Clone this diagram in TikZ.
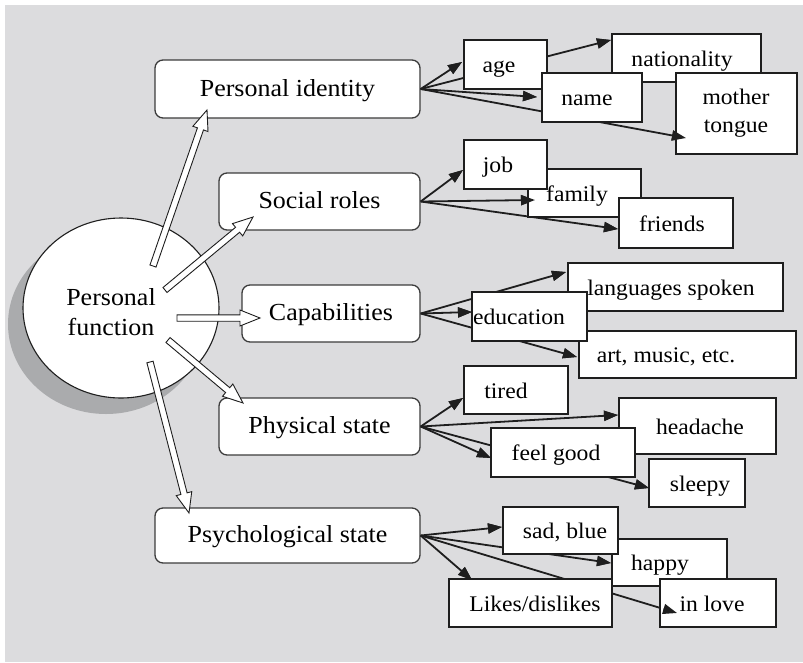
\documentclass[tikz,border=0pt]{standalone}
\usepackage{fontspec}
\setmainfont{Liberation Serif}[FakeStretch=1.06]
\usetikzlibrary{arrows.meta,calc,shapes.geometric}

\definecolor{bg}{HTML}{DCDCDE}
\definecolor{shadowgray}{HTML}{AAABAD}
\definecolor{ink}{HTML}{1E1E1E}
\definecolor{mainedge}{HTML}{3C3C3C}

\tikzset{
  mainbox/.style={draw=mainedge, line width=1.3pt, fill=white, rounded corners=8pt,
    inner sep=0pt, text height=17pt, text depth=3pt,
    font=\fontsize{24.5}{29}\selectfont},
  smallbox/.style={draw=ink, line width=2pt, fill=white, inner sep=0pt},
  smalltext/.style={inner sep=0pt, align=center, font=\fontsize{22.3}{28}\selectfont},
  sline/.style={smalltext, text height=17pt, text depth=1pt},
  circtext/.style={inner sep=0pt, align=center, font=\fontsize{24.5}{30}\selectfont},
  conn/.style={draw=ink, line width=1.8pt, -{Triangle[length=14pt,width=10pt]}},
  fatarrow/.style={draw=ink, line width=0.9pt, fill=white, line join=miter},
}

% rounded main box: name, x1, y1, x2, y2, text
\newcommand\mainbx[6]{%
  \node[mainbox, minimum width={#4-#2}, minimum height={#5-#3}]
    (#1) at ({(#2+#4)/2},{(#3+#5)/2}) {#6};}

% small box: name, x1, y1, x2, y2, text centre x, text
\newcommand\smallbx[7]{%
  \node[smallbox, minimum width={#4-#2}, minimum height={#5-#3}]
    (#1) at ({(#2+#4)/2},{(#3+#5)/2}) {};
  \node[sline] (#1-t) at (#6,{(#3+#5)/2}) {#7};}

% hollow block arrow from a tail coordinate to a tip coordinate
\newcommand\blockarrow[2]{%
  \coordinate (ba-h) at ($(#2)!20pt!(#1)$);
  \draw[fatarrow] ($(#1)!3.2pt!90:(#2)$) -- ($(ba-h)!3.2pt!90:(#2)$)
    -- ($(ba-h)!8pt!90:(#2)$) -- (#2) -- ($(ba-h)!8pt!-90:(#2)$)
    -- ($(ba-h)!3.2pt!-90:(#2)$) -- ($(#1)!3.2pt!-90:(#2)$) -- cycle;}

\begin{document}
\begin{tikzpicture}[x=1pt,y=-1pt]
\useasboundingbox (0,0) rectangle (803,662);
\fill[white] (0,0) rectangle (803,662);
\fill[bg] (5,5) rectangle (803,662);

% central ellipse with its drop shadow
\fill[shadowgray] (106,324) ellipse [x radius=98pt, y radius=90pt];
\node[ellipse, draw=ink, line width=1.1pt, fill=white, inner sep=0pt,
      minimum width=196pt, minimum height=180pt] (pf) at (121,308) {};
\node[circtext] (pf-t) at (111,312) {Personal\\function};

% the five aspects
\mainbx{pi}{155}{60}{420}{118}{Personal identity}
\mainbx{sr}{219}{173}{420}{230}{Social roles}
\mainbx{cap}{242}{285}{420}{342}{Capabilities}
\mainbx{ps}{219}{398}{420}{455}{Physical state}
\mainbx{psy}{155}{508}{420}{563}{Psychological state}

% arrow tips of the thin connectors
\coordinate (tip-age)    at (462,62);
\coordinate (tip-nat)    at (611,40);
\coordinate (tip-name)   at (537,97);
\coordinate (tip-mt)     at (686,138);
\coordinate (tip-job)    at (463,170);
\coordinate (tip-fam)    at (535,200);
\coordinate (tip-fri)    at (618,229);
\coordinate (tip-lang)   at (566,272);
\coordinate (tip-edu)    at (472,312);
\coordinate (tip-art)    at (577,357);
\coordinate (tip-tired)  at (463,398);
\coordinate (tip-head)   at (618,415);
\coordinate (tip-fg)     at (491,458);
\coordinate (tip-sleepy) at (649,488);
\coordinate (tip-sad)    at (502,527);
\coordinate (tip-happy)  at (611,563);
\coordinate (tip-likes)  at (472,580);
\coordinate (tip-love)   at (677,613);

\def\links{pi/age, pi/nat, pi/name, pi/mt, sr/job, sr/fam, sr/fri,
  cap/lang, cap/edu, cap/art, ps/tired, ps/head, ps/fg, ps/sleepy,
  psy/sad, psy/happy, psy/likes, psy/love}

% connector lines run underneath the small boxes
\foreach \src/\dst in \links
  \draw[conn] (\src.east) -- (tip-\dst);

% small boxes
\smallbx{age}{464}{40}{547}{89}{499}{age}
\smallbx{nat}{612}{34}{761}{82}{682}{nationality}
\smallbx{name}{542}{73}{642}{122}{587}{name}
\node[smallbox, minimum width=121pt, minimum height=81pt] (mt) at (736.5,113.5) {};
\node[smalltext] (mt-t) at (736,113) {mother\\tongue};

\smallbx{fam}{528}{169}{641}{217}{577}{family}
\smallbx{job}{464}{140}{547}{189}{498}{job}
\smallbx{fri}{619}{198}{733}{248}{672}{friends}

\smallbx{lang}{568}{263}{783}{311}{671}{languages spoken}
\smallbx{art}{579}{331}{796}{378}{666}{art, music, etc.}
\smallbx{edu}{472}{292}{587}{341}{519}{education}

\smallbx{tired}{464}{366}{568}{414}{506}{tired}
\smallbx{head}{619}{398}{776}{454}{700}{headache}
\smallbx{fg}{491}{428}{635}{477}{556}{feel good}
\smallbx{sleepy}{649}{459}{745}{507}{700}{sleepy}

\smallbx{happy}{612}{539}{727}{586}{660}{happy}
\smallbx{sad}{503}{507}{618}{554}{565}{sad, blue}
\smallbx{likes}{449}{579}{612}{627}{535}{Likes/dislikes}
\smallbx{love}{660}{579}{776}{627}{712}{in love}

% arrowheads sit on top of the boxes
\foreach \src/\dst in \links
  \draw[conn] ($(tip-\dst)!14pt!(\src.east)$) -- (tip-\dst);

% hollow arrows from the centre to the five aspects
\coordinate (fa-pi-a)  at (153,266); \coordinate (fa-pi-b)  at (207,110);
\coordinate (fa-sr-a)  at (165,290); \coordinate (fa-sr-b)  at (253,217);
\coordinate (fa-cap-a) at (177,318); \coordinate (fa-cap-b) at (260,318);
\coordinate (fa-ps-a)  at (168,340); \coordinate (fa-ps-b)  at (243,403);
\coordinate (fa-psy-a) at (150,362); \coordinate (fa-psy-b) at (189,513);
\blockarrow{fa-pi-a}{fa-pi-b}
\blockarrow{fa-sr-a}{fa-sr-b}
\blockarrow{fa-cap-a}{fa-cap-b}
\blockarrow{fa-ps-a}{fa-ps-b}
\blockarrow{fa-psy-a}{fa-psy-b}
\end{tikzpicture}
\end{document}
